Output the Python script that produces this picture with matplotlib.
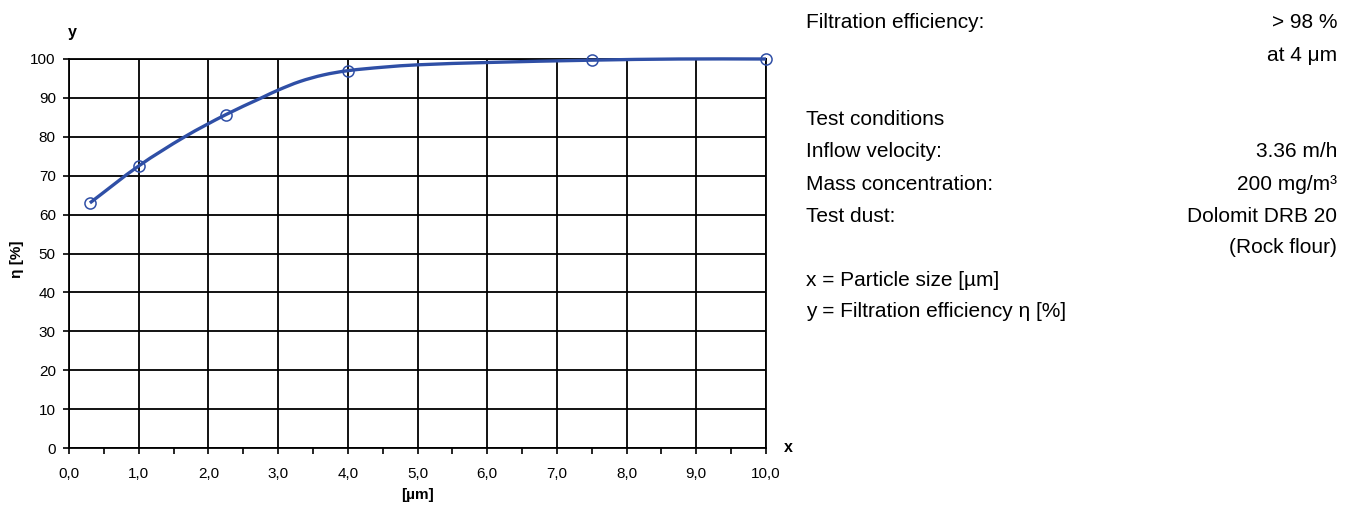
import numpy as np
import matplotlib
matplotlib.use('Agg')
import matplotlib.pyplot as plt
from matplotlib.path import Path
from matplotlib.patches import PathPatch
from matplotlib.ticker import MultipleLocator, FuncFormatter

plt.rcParams['font.family'] = ['Liberation Sans', 'DejaVu Sans']

# measured points (markers)
size_um = [0.3, 1.0, 2.25, 4.0, 7.5, 10.0]
eff_pct = [63.0, 72.5, 85.7, 97.0, 99.7, 100.0]

# points
curve_x = [0.3, 1.0, 1.66, 2.25, 2.76, 3.0, 3.31, 3.65, 4.0, 4.51, 5.0, 6.0, 7.5, 8.75, 10.0]
curve_y = [63.0, 72.5, 80.0, 85.7, 90.0, 92.0, 94.2, 95.9, 97.0, 97.9, 98.5, 99.1, 99.7, 100.0, 100.0]

x_ticks = [0, 1, 2, 3, 4, 5, 6, 7, 8, 9, 10]
y_ticks = [0, 10, 20, 30, 40, 50, 60, 70, 80, 90, 100]

info_left = ['Filtration efficiency:', 'Test conditions', 'Inflow velocity:',
             'Mass concentration:', 'Test dust:',
             'x = Particle size [µm]', 'y = Filtration efficiency η [%]']
info_left_y = [28, 125, 157, 190, 222, 286, 317]
info_right = ['> 98 %', 'at 4 μm', '3.36 m/h', '200 mg/m³',
              'Dolomit DRB 20', '(Rock flour)']
info_right_y = [28, 61, 157, 190, 222, 253]

blue = '#2f4fa6'
W, H = 1353, 508

fig = plt.figure(figsize=(W / 100, H / 100), dpi=100)
ax = fig.add_axes([69 / W, 60 / H, 697 / W, 389 / H])

ax.set_xlim(0, 10)
ax.set_ylim(0, 100)
ax.set_xticks(x_ticks)
ax.set_yticks(y_ticks)
ax.xaxis.set_minor_locator(MultipleLocator(0.5))
ax.xaxis.set_major_formatter(FuncFormatter(lambda v, p: f'{v:.1f}'.replace('.', ',')))
ax.grid(True, which='major', color='black', linewidth=1.3)
ax.set_axisbelow(True)
for s in ax.spines.values():
    s.set_linewidth(1.3)
    s.set_color('black')
ax.tick_params(axis='both', which='both', direction='out', length=4.5, width=1.2,
               labelsize=11, color='black')
ax.tick_params(axis='x', pad=9)
ax.tick_params(axis='y', pad=5)

# smooth curve through the read points (hermite -> cubic bezier in data space)
cx = np.array(curve_x)
cy = np.array(curve_y)
n = len(cx)
m = np.zeros(n)
m[0] = (cy[1] - cy[0]) / (cx[1] - cx[0])
m[-1] = (cy[-1] - cy[-2]) / (cx[-1] - cx[-2])
m[1:-1] = (cy[2:] - cy[:-2]) / (cx[2:] - cx[:-2])
verts = [(cx[0], cy[0])]
codes = [Path.MOVETO]
for i in range(n - 1):
    h = cx[i + 1] - cx[i]
    verts += [(cx[i] + h / 3, cy[i] + m[i] * h / 3),
              (cx[i + 1] - h / 3, cy[i + 1] - m[i + 1] * h / 3),
              (cx[i + 1], cy[i + 1])]
    codes += [Path.CURVE4] * 3
ax.add_patch(PathPatch(Path(verts, codes), facecolor='none', edgecolor=blue,
                       linewidth=2.4, zorder=3, clip_on=False))

ax.plot(size_um, eff_pct, linestyle='none', marker='o', markersize=8,
        markerfacecolor='none', markeredgecolor=blue, markeredgewidth=1.1,
        zorder=4, clip_on=False)

fig.text(72 / W, 1 - 33 / H, 'y', fontsize=11.5, fontweight='bold', ha='center', va='center')
fig.text(788 / W, 1 - 448 / H, 'x', fontsize=11.5, fontweight='bold', ha='center', va='center')
fig.text(417 / W, 1 - 495 / H, '[µm]', fontsize=11, fontweight='bold', ha='center', va='center')
fig.text(17 / W, 1 - 259 / H, 'η [%]', fontsize=11, fontweight='bold', ha='center',
         va='center', rotation=90)

for t, yy in zip(info_left, info_left_y):
    fig.text(806 / W, 1 - yy / H, t, fontsize=15, ha='left', va='baseline')
for t, yy in zip(info_right, info_right_y):
    fig.text(1337 / W, 1 - yy / H, t, fontsize=15, ha='right', va='baseline')

fig.savefig('out.png', dpi=100)
